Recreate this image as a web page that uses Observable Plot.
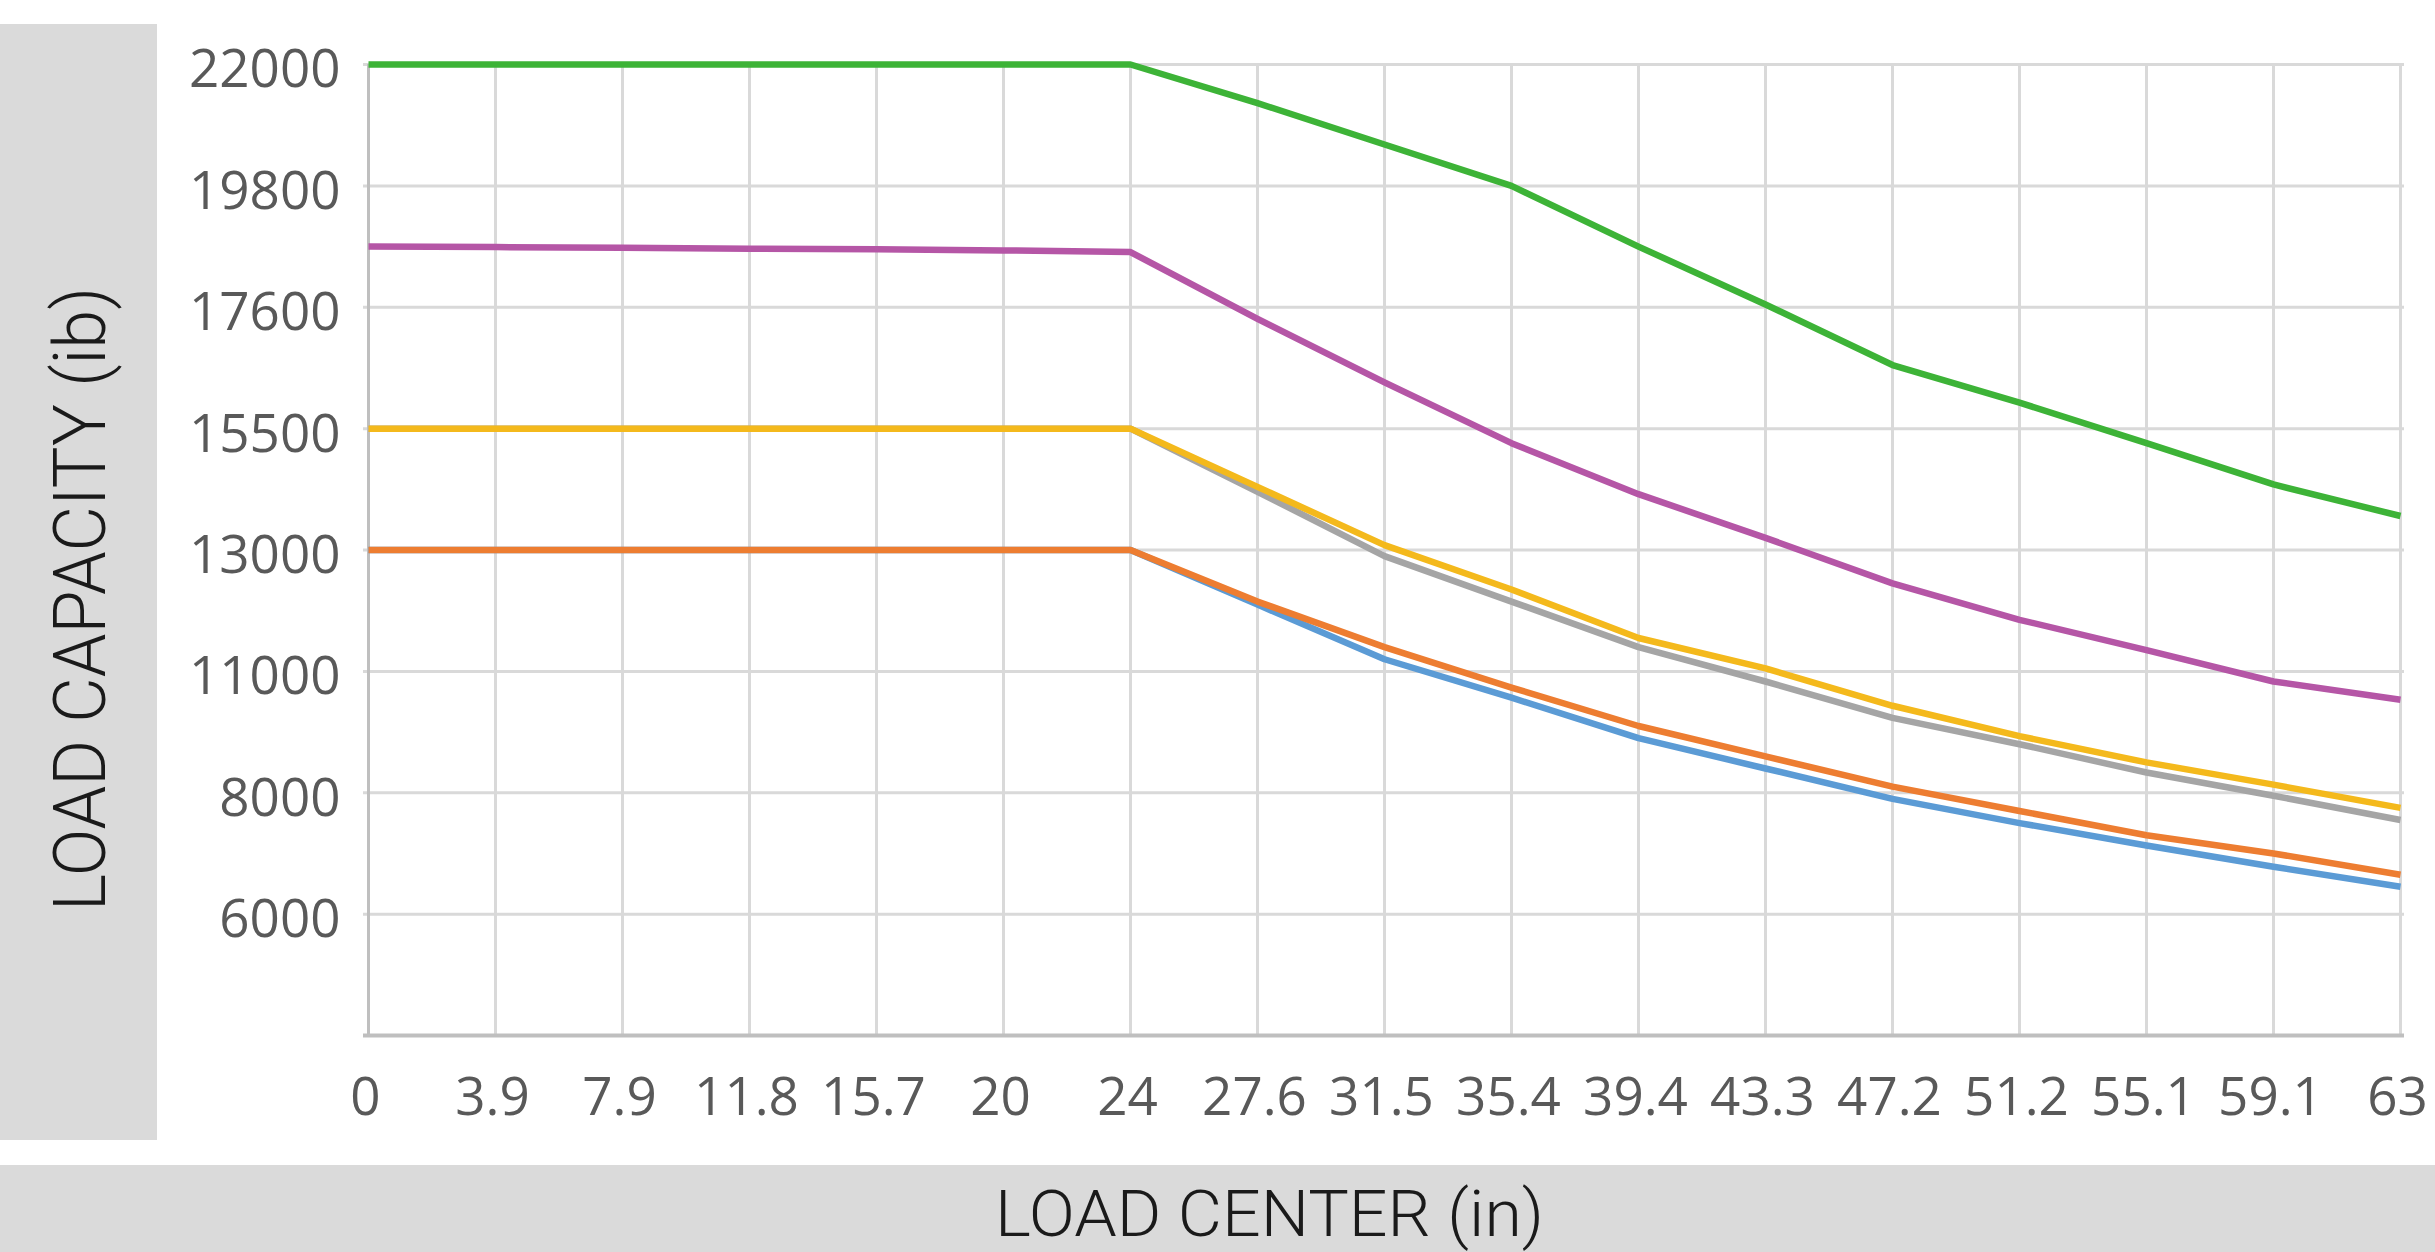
<!DOCTYPE html>
<html>
<head>
<meta charset="utf-8">
<script src="https://cdn.jsdelivr.net/npm/d3@7"></script>
<script src="https://cdn.jsdelivr.net/npm/@observablehq/plot@0.6"></script>
<style>
  html, body { margin: 0; padding: 0; background: #ffffff; }
  #wrap { position: relative; width: 2435px; height: 1252px; overflow: hidden; background: #ffffff; }
  #leftPanel { position: absolute; left: 0; top: 24px; width: 157px; height: 1116px; background: #dadada; }
  #bottomBand { position: absolute; left: 0; top: 1165px; width: 2435px; height: 87px; background: #dadada; }
  #chart { position: absolute; left: 0; top: 0; }
  svg.titles { position: absolute; left: 0; top: 0; pointer-events: none; }
  svg.titles text { font-family: Roboto, "Open Sans", sans-serif; font-weight: 300; fill: #1a1a1a; }
</style>
</head>
<body>
<div id="wrap">
  <div id="leftPanel"></div>
  <div id="bottomBand"></div>
  <div id="chart"></div>
  <svg class="titles" width="2435" height="1252">
    <text id="yTitle" transform="translate(105,911) rotate(-90)" font-size="72" textLength="624" lengthAdjust="spacingAndGlyphs"></text>
    <text id="xTitle" x="995" y="1236" font-size="64" textLength="549" lengthAdjust="spacingAndGlyphs"></text>
  </svg>
</div>
<script>
// ---- data ----
const xLabels = ["0", "3.9", "7.9", "11.8", "15.7", "20", "24", "27.6", "31.5", "35.4", "39.4", "43.3", "47.2", "51.2", "55.1", "59.1", "63"];
const yTicks = [22000, 19800, 17600, 15500, 13000, 11000, 8000, 6000];
const yFloor = 4000;

const yTitleText = "LOAD CAPACITY (ib)";
const xTitleText = "LOAD CENTER (in)";

const seriesNames  = ["Series A", "Series B", "Series C", "Series D", "Series E", "Series F"];
const seriesColors = ["#5b9bd5", "#ed7d31", "#a5a5a5", "#f4b91c", "#b556a6", "#3db337"];

const seriesA = [13000, 13000, 13000, 13000, 13000, 13000, 13000, 12100, 11200, 10350, 9350, 8600, 7900, 7500, 7130, 6780, 6450];
const seriesB = [13000, 13000, 13000, 13000, 13000, 13000, 13000, 12150, 11400, 10600, 9650, 8900, 8150, 7700, 7300, 7000, 6650];
const seriesC = [15500, 15500, 15500, 15500, 15500, 15500, 15500, 14200, 12900, 12150, 11400, 10750, 9850, 9200, 8500, 7950, 7550];
const seriesD = [15500, 15500, 15500, 15500, 15500, 15500, 15500, 14300, 13100, 12350, 11550, 11050, 10150, 9400, 8750, 8200, 7750];
const seriesE = [18700, 18690, 18680, 18660, 18650, 18630, 18600, 17400, 16300, 15200, 14150, 13250, 12450, 11850, 11350, 10750, 10300];
const seriesF = [22000, 22000, 22000, 22000, 22000, 22000, 22000, 21300, 20550, 19800, 18700, 17650, 16600, 15950, 15200, 14350, 13700];

const seriesValues = [seriesA, seriesB, seriesC, seriesD, seriesE, seriesF];

// long table for Plot
const rows = [];
seriesNames.forEach((name, s) => {
  seriesValues[s].forEach((v, i) => rows.push({series: name, x: xLabels[i], y: v}));
});

// ---- layout ----
const W = 2435, H = 1165;
const mTop = 64, mLeft = 363, mRight = 31, mBottom = 130;
const yBottom = H - mBottom;

// the value axis has evenly spaced (non-linear) tick values: piecewise scale
const yDomain = [yFloor, ...yTicks.slice().reverse()];
const yRange = yDomain.map((_, k) => yBottom - k * (yBottom - mTop) / (yDomain.length - 1));

const chart = Plot.plot({
  width: W,
  height: H,
  marginTop: mTop,
  marginLeft: mLeft,
  marginRight: mRight,
  marginBottom: mBottom,
  style: {background: "transparent", fontFamily: "'Open Sans', sans-serif", color: "#595959"},
  x: {type: "point", domain: xLabels, padding: 0},
  y: {type: "linear", domain: yDomain, range: yRange},
  color: {domain: seriesNames, range: seriesColors},
  marks: [
    Plot.ruleX(xLabels, {stroke: "#d9d9d9", strokeWidth: 3}),
    Plot.ruleY(yTicks, {stroke: "#d9d9d9", strokeWidth: 3}),
    Plot.ruleX([xLabels[0]], {stroke: "#bfbfbf", strokeWidth: 3}),
    Plot.ruleY([yFloor], {stroke: "#bfbfbf", strokeWidth: 4}),
    Plot.line(rows, {x: "x", y: "y", z: "series", stroke: "series", strokeWidth: 6.5, strokeLinejoin: "round", strokeLinecap: "butt"}),
    Plot.axisY(yTicks, {tickSize: 0, tickPadding: 23, fontSize: 53, fill: "#595959", dy: 6, label: null, tickFormat: d => String(d)}),
    Plot.axisX({tickSize: 0, tickPadding: 42, fontSize: 53, fill: "#595959", label: null, dx: -3})
  ]
});

document.getElementById("chart").appendChild(chart);
document.getElementById("yTitle").textContent = yTitleText;
document.getElementById("xTitle").textContent = xTitleText;
</script>
</body>
</html>
